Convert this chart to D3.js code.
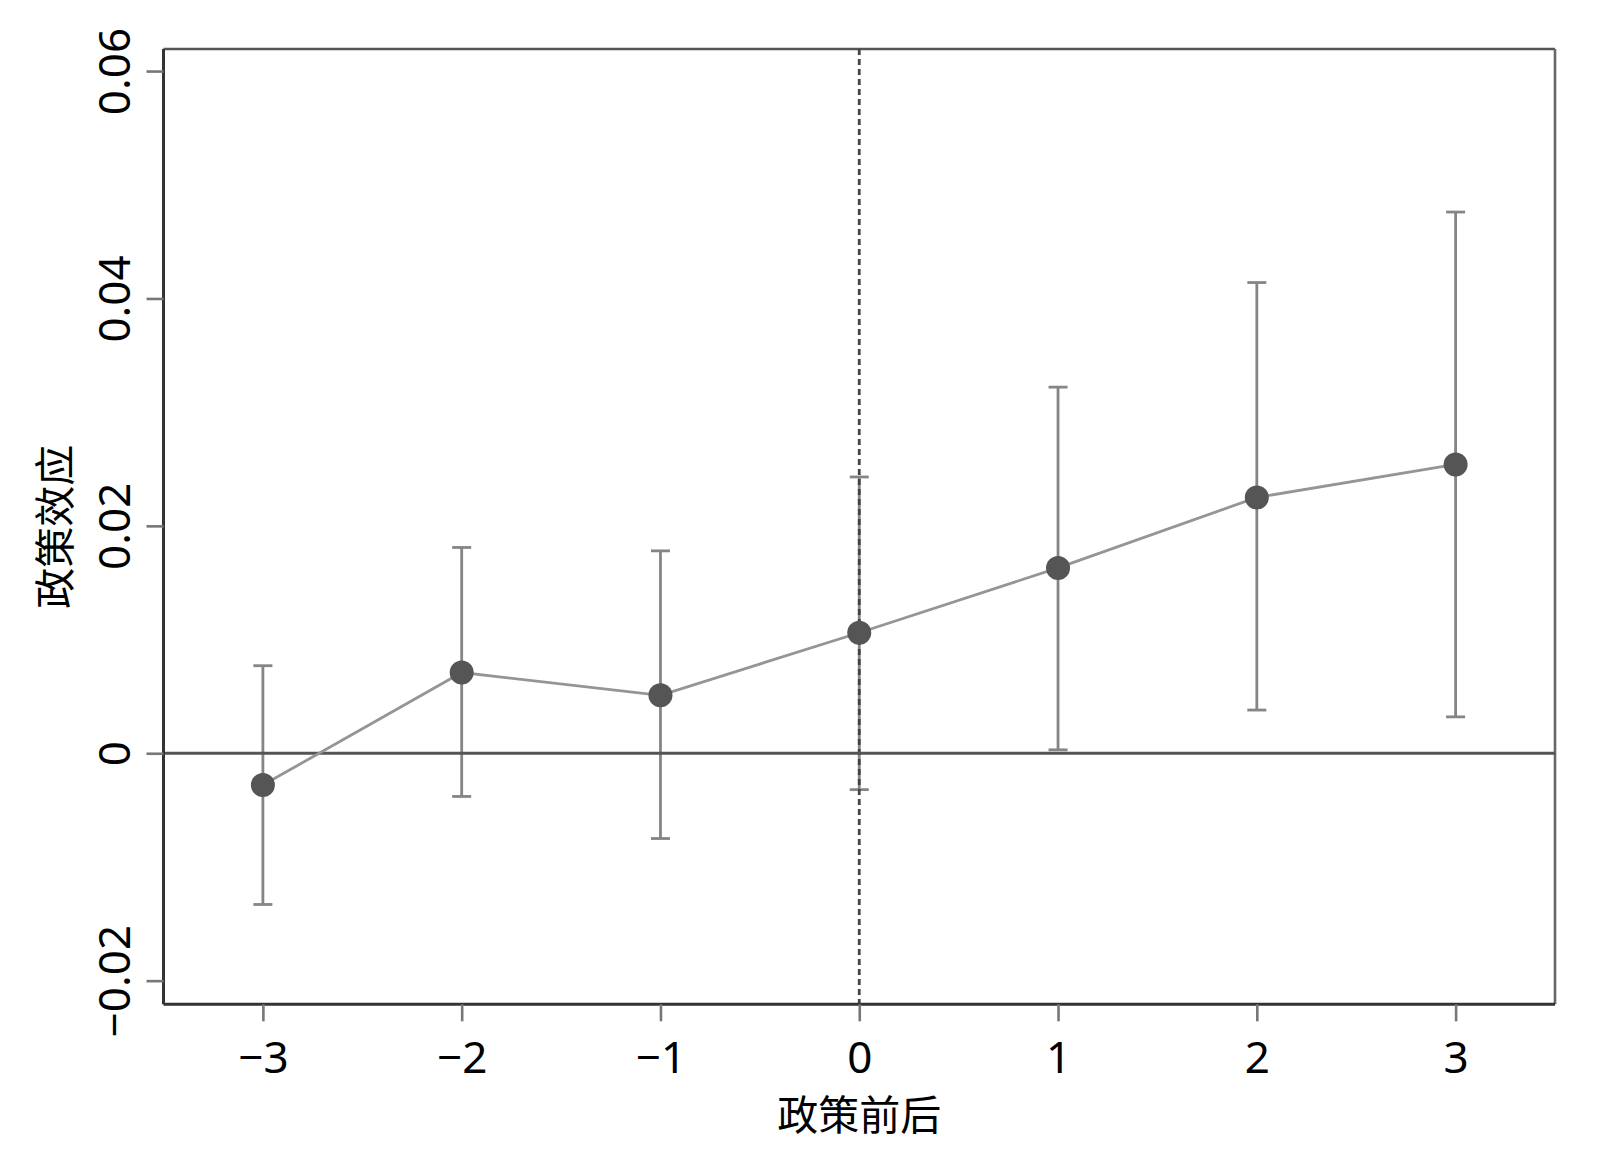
<!DOCTYPE html>
<html><head><meta charset="utf-8">
<script src="https://cdn.jsdelivr.net/npm/d3@7"></script>
<style>html,body{margin:0;padding:0;background:#fff;}svg{display:block;}</style>
</head><body>
<svg id="chart" width="1600" height="1165"></svg>
<script>
const periods = [-3, -2, -1, 0, 1, 2, 3];
const estimates = [-0.0028, 0.0071, 0.0051, 0.0106, 0.0163, 0.0225, 0.0254];
const ciLower = [-0.0133, -0.0038, -0.0075, -0.0032, 0.0003, 0.0038, 0.0032];
const ciUpper = [0.0077, 0.0181, 0.0178, 0.0243, 0.0322, 0.0414, 0.0476];
const xTickLabels = ["\u22123", "\u22122", "\u22121", "0", "1", "2", "3"];
const yTicks = [-0.02, 0, 0.02, 0.04, 0.06];
const yTickLabels = ["\u22120.02", "0", "0.02", "0.04", "0.06"];
const xTitle = "政策前后";
const yTitle = "政策效应";

const svg = d3.select("#chart");
const m = {left: 163.5, right: 1555, top: 49, bottom: 1004.3};
const x = d3.scaleLinear().domain([-3.5, 3.5]).range([m.left, m.right]);
const y = d3.scaleLinear().domain([-0.02208, 0.06194]).range([m.bottom, m.top]);
const font = "'Noto Sans', 'Open Sans', 'Noto Sans CJK SC', sans-serif";

// frame top & right
svg.append("line").attr("x1", m.left).attr("x2", m.right).attr("y1", m.top).attr("y2", m.top)
  .attr("stroke", "#555").attr("stroke-width", 2.6);
svg.append("line").attr("x1", m.right).attr("x2", m.right).attr("y1", m.top).attr("y2", m.bottom)
  .attr("stroke", "#666").attr("stroke-width", 2.6);

// error bars
const capW = 9.5;
const eb = svg.append("g").attr("stroke", "#858585").attr("stroke-width", 2.8);
periods.forEach((p, i) => {
  eb.append("line").attr("x1", x(p)).attr("x2", x(p)).attr("y1", y(ciLower[i])).attr("y2", y(ciUpper[i]));
  eb.append("line").attr("x1", x(p) - capW).attr("x2", x(p) + capW).attr("y1", y(ciLower[i])).attr("y2", y(ciLower[i]));
  eb.append("line").attr("x1", x(p) - capW).attr("x2", x(p) + capW).attr("y1", y(ciUpper[i])).attr("y2", y(ciUpper[i]));
});

// vertical dashed line at 0
svg.append("line").attr("x1", x(0)).attr("x2", x(0)).attr("y1", m.top).attr("y2", m.bottom)
  .attr("stroke", "#444").attr("stroke-width", 2.8).attr("stroke-dasharray", "6,4");

// zero line
svg.append("line").attr("x1", m.left).attr("x2", m.right).attr("y1", y(0)).attr("y2", y(0))
  .attr("stroke", "#555").attr("stroke-width", 2.8);

// connecting line
const line = d3.line().x((d, i) => x(periods[i])).y(d => y(d));
svg.append("path").datum(estimates).attr("d", line).attr("fill", "none")
  .attr("stroke", "#959595").attr("stroke-width", 2.8);

// points
svg.append("g").selectAll("circle").data(estimates).join("circle")
  .attr("cx", (d, i) => x(periods[i])).attr("cy", d => y(d)).attr("r", 12)
  .attr("fill", "#555");

// axes
const xAxis = d3.axisBottom(x).tickValues(periods).tickFormat((d, i) => xTickLabels[i])
  .tickSize(17).tickPadding(20).tickSizeOuter(0);
const gx = svg.append("g").attr("transform", `translate(0,${m.bottom})`).call(xAxis);
gx.select(".domain").attr("stroke", "#333").attr("stroke-width", 3).attr("d", `M${m.left},0H${m.right}`);
gx.selectAll(".tick line").attr("stroke", "#777").attr("stroke-width", 2.6);
gx.selectAll(".tick text").attr("font-family", font).attr("font-size", 44).attr("fill", "#000")
  .attr("dy", "0.71em");

const yAxis = d3.axisLeft(y).tickValues(yTicks).tickFormat((d, i) => yTickLabels[i])
  .tickSize(17).tickSizeOuter(0);
const gy = svg.append("g").attr("transform", `translate(${m.left},0)`).call(yAxis);
gy.select(".domain").attr("stroke", "#333").attr("stroke-width", 3).attr("d", `M0,${m.top}V${m.bottom}`);
gy.selectAll(".tick line").attr("stroke", "#777").attr("stroke-width", 2.6);
gy.selectAll(".tick text").attr("font-family", font).attr("font-size", 44).attr("fill", "#000")
  .attr("x", null).attr("dy", null)
  .attr("transform", "translate(-45,0) rotate(-90)")
  .attr("text-anchor", "middle").attr("dominant-baseline", "middle");

// titles
svg.append("text").attr("x", (m.left + m.right) / 2).attr("y", 1130)
  .attr("text-anchor", "middle").attr("font-family", "'Noto Sans CJK SC', sans-serif")
  .attr("font-size", 41).attr("fill", "#000").text(xTitle);
svg.append("text").attr("transform", `translate(70,${(m.top + m.bottom) / 2}) rotate(-90)`)
  .attr("text-anchor", "middle").attr("font-family", "'Noto Sans CJK SC', sans-serif")
  .attr("font-size", 41).attr("fill", "#000").text(yTitle);
</script>
</body></html>
